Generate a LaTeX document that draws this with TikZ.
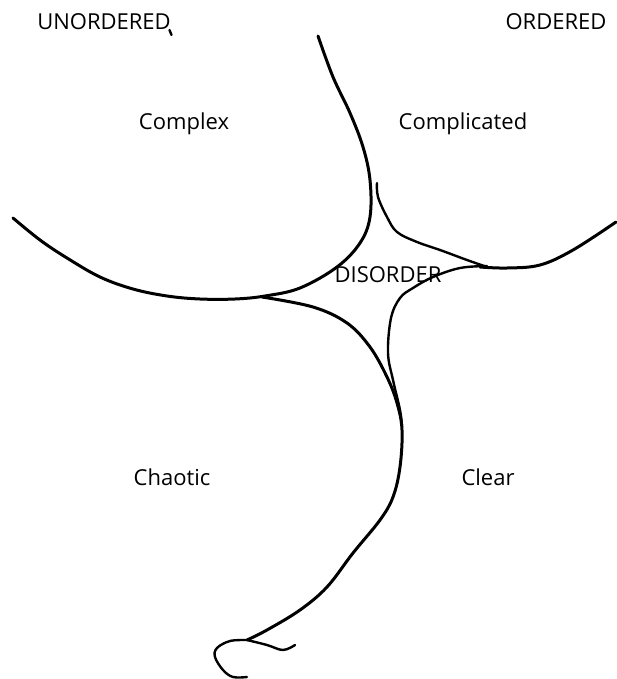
\documentclass[tikz,border=0pt]{standalone}
\usepackage{fontspec}
\setmainfont{Open Sans}
\begin{document}
\begin{tikzpicture}[x=1pt,y=-1pt,
  ink/.style={line width=3pt, line cap=round, line join=round},
  thinink/.style={line width=2.4pt, line cap=round, line join=round},
  lbl/.style={font=\fontsize{22}{26}\selectfont, inner sep=0pt, anchor=base}]
\useasboundingbox (0,0) rectangle (616,679);
\node[lbl] (unord) at (104,30) {UNORDERED};
\node[lbl] (ord) at (556,30) {ORDERED};
\node[lbl] (complex) at (184,130) {Complex};
\node[lbl] (complicated) at (463,130) {Complicated};
\node[lbl] (disorder) at (388,282) {DISORDER};
\node[lbl] (chaotic) at (172,485) {Chaotic};
\node[lbl] (clear) at (488,485) {Clear};
% tick under UNORDERED
\draw[thinink] (169.5,30) -- (171.5,35);
% left arc and upper divider
\draw[ink] plot[smooth, tension=0.6] coordinates {(13,218) (40,240) (67,258) (100,277) (133,289) (167,296) (200,299) (235,299) (265,296) (300,288) (337,267) (360,243) (370,217) (370,180) (363,147) (350,113) (333,77) (318,36)};
% upper right stroke and right arc
\draw[thinink] plot[smooth, tension=0.6] coordinates {(377,183) (378,197) (387,217) (397,232) (417,242) (440,250) (467,260) (487,267)};
\draw[ink] plot[smooth, tension=0.6] coordinates {(480,267) (507,268) (540,265) (573,250) (616,222)};
% right lower stroke of disorder
\draw[thinink] plot[smooth, tension=0.6] coordinates {(487,266) (460,268) (433,277) (413,288) (400,298) (391,318) (388,353) (393,380) (400,410) (402,427)};
% long lower stroke
\draw[ink] plot[smooth, tension=0.6] coordinates {(262,297) (313,307) (347,323) (370,347) (387,377) (397,403) (402,430) (400,467) (393,497) (380,520) (353,553) (327,587) (300,610) (267,630) (247,640)};
\draw[thinink] plot[smooth, tension=0.6] coordinates {(247,640) (230,641) (217,648) (215,657) (223,670) (233,677) (247,677)};
\draw[thinink] plot[smooth, tension=0.6] coordinates {(247,640) (267,645) (283,650) (295,645)};
\end{tikzpicture}
\end{document}
